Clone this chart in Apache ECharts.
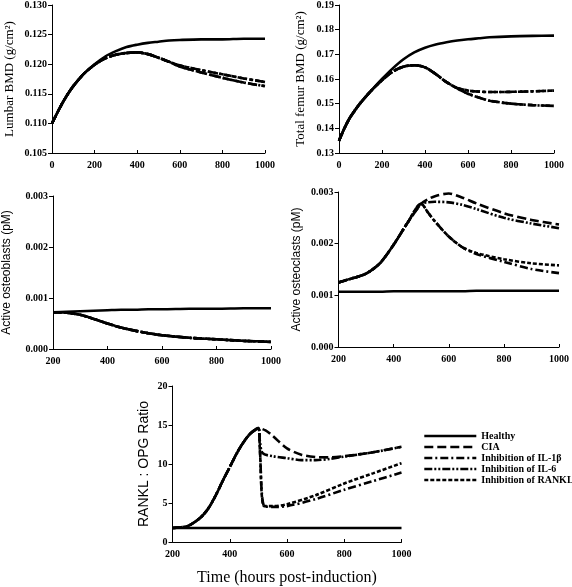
<!DOCTYPE html>
<html>
<head>
<meta charset="utf-8">
<script src="https://cdn.jsdelivr.net/npm/echarts@6/dist/echarts.min.js"></script>
<style>
html,body{margin:0;padding:0;background:#fff;}
#chart{width:572px;height:587px;}
</style>
</head>
<body>
<div id="chart"></div>
<script>
// ---------- Data ----------
const seriesNames = ['Healthy', 'CIA', 'Inhibition of IL-1\u03B2', 'Inhibition of IL-6', 'Inhibition of RANKL'];

// Panel 1: Lumbar BMD
const lumbarT = [0, 25, 50, 75, 100, 150, 200, 250, 300, 350, 400, 450, 500, 550, 600, 700, 800, 900, 1000];
const lumbarHealthy = [0.1100, 0.1118, 0.1135, 0.1150, 0.1163, 0.1184, 0.1200, 0.1213, 0.1222, 0.1229, 0.1233, 0.1236, 0.1238, 0.1240, 0.1241, 0.1242, 0.1242, 0.1243, 0.1243];
const lumbarCIA = [0.1100, 0.1118, 0.1135, 0.1150, 0.1163, 0.1184, 0.1199, 0.1210, 0.1216, 0.1219, 0.1220, 0.1217, 0.1211, 0.1204, 0.1196, 0.1186, 0.1177, 0.1169, 0.1163];
const lumbarIL1 = [0.1100, 0.1118, 0.1135, 0.1150, 0.1163, 0.1184, 0.1199, 0.1210, 0.1216, 0.1219, 0.1220, 0.1217, 0.1211, 0.1204, 0.1198, 0.1190, 0.1183, 0.1176, 0.1170];
const lumbarIL6 = [0.1100, 0.1118, 0.1135, 0.1150, 0.1163, 0.1184, 0.1199, 0.1210, 0.1216, 0.1219, 0.1220, 0.1217, 0.1211, 0.1204, 0.1196, 0.1186, 0.1177, 0.1169, 0.1163];
const lumbarRANKL = [0.1100, 0.1118, 0.1135, 0.1150, 0.1163, 0.1184, 0.1199, 0.1210, 0.1216, 0.1219, 0.1220, 0.1217, 0.1211, 0.1204, 0.1198, 0.1190, 0.1183, 0.1176, 0.1170];

// Panel 2: Total femur BMD
const femurT = [0, 25, 50, 75, 100, 150, 200, 250, 300, 350, 400, 450, 500, 550, 600, 650, 700, 800, 900, 1000];
const femurHealthy = [0.1350, 0.1400, 0.1442, 0.1474, 0.1503, 0.1553, 0.1600, 0.1643, 0.1680, 0.1708, 0.1727, 0.1740, 0.1749, 0.1756, 0.1761, 0.1765, 0.1769, 0.1773, 0.1775, 0.1776];
const femurCIA = [0.1350, 0.1400, 0.1442, 0.1474, 0.1503, 0.1553, 0.1595, 0.1630, 0.1650, 0.1656, 0.1647, 0.1620, 0.1587, 0.1562, 0.1540, 0.1525, 0.1512, 0.1500, 0.1494, 0.1491];
const femurIL1 = [0.1350, 0.1400, 0.1442, 0.1474, 0.1503, 0.1553, 0.1595, 0.1630, 0.1650, 0.1656, 0.1647, 0.1620, 0.1587, 0.1564, 0.1553, 0.1549, 0.1547, 0.1548, 0.1550, 0.1553];
const femurIL6 = [0.1350, 0.1400, 0.1442, 0.1474, 0.1503, 0.1553, 0.1595, 0.1630, 0.1650, 0.1656, 0.1647, 0.1620, 0.1587, 0.1562, 0.1540, 0.1525, 0.1512, 0.1500, 0.1494, 0.1491];
const femurRANKL = [0.1350, 0.1400, 0.1442, 0.1474, 0.1503, 0.1553, 0.1595, 0.1630, 0.1650, 0.1656, 0.1647, 0.1620, 0.1587, 0.1564, 0.1553, 0.1549, 0.1547, 0.1548, 0.1550, 0.1553];

// Panel 3: Active osteoblasts
const obT = [200, 250, 300, 350, 400, 450, 500, 550, 600, 700, 800, 900, 1000];
const obHealthy = [0.00072, 0.00073, 0.00074, 0.00075, 0.00076, 0.00077, 0.00077, 0.00078, 0.00078, 0.00079, 0.00079, 0.00080, 0.00080];
const obDisease = [0.00072, 0.00071, 0.00067, 0.00059, 0.00050, 0.00042, 0.00036, 0.00031, 0.00027, 0.00022, 0.00019, 0.00016, 0.00014];

// Panel 4: Active osteoclasts
const ocT = [200, 250, 300, 350, 400, 450, 500, 525, 550, 600, 650, 700, 800, 900, 1000];
const ocHealthy = [0.00107, 0.00107, 0.00107, 0.00107, 0.00108, 0.00108, 0.00108, 0.00108, 0.00108, 0.00108, 0.00108, 0.00109, 0.00109, 0.00109, 0.00109];
const ocCIA = [0.00125, 0.00133, 0.00142, 0.00162, 0.00198, 0.00240, 0.00277, 0.00286, 0.00292, 0.00297, 0.00289, 0.00278, 0.00259, 0.00246, 0.00237];
const ocIL1 = [0.00125, 0.00133, 0.00142, 0.00162, 0.00198, 0.00240, 0.00277, 0.00260, 0.00243, 0.00214, 0.00193, 0.00180, 0.00165, 0.00151, 0.00143];
const ocIL6 = [0.00125, 0.00133, 0.00142, 0.00162, 0.00198, 0.00240, 0.00277, 0.00280, 0.00281, 0.00280, 0.00275, 0.00267, 0.00250, 0.00239, 0.00230];
const ocRANKL = [0.00125, 0.00133, 0.00142, 0.00162, 0.00198, 0.00240, 0.00277, 0.00260, 0.00243, 0.00214, 0.00193, 0.00182, 0.00170, 0.00162, 0.00158];

// Panel 5: RANKL : OPG ratio
const preT = [200, 250, 275, 300, 325, 350, 375, 400, 425, 450, 475, 500];
const preVal = [1.8, 2.0, 2.5, 3.2, 4.3, 5.9, 7.8, 9.6, 11.4, 12.9, 14.0, 14.6];
const ratioHealthyT = [200, 1000];
const ratioHealthy = [1.8, 1.8];
const postCIAT = [525, 550, 600, 650, 700, 750, 800, 900, 1000];
const postCIA = [14.3, 13.6, 12.0, 11.2, 10.9, 10.85, 11.0, 11.5, 12.2];
const postIL6T = [505, 515, 550, 600, 650, 700, 750, 800, 900, 1000];
const postIL6 = [13.0, 11.4, 11.0, 10.75, 10.5, 10.5, 10.65, 10.95, 11.5, 12.2];
const postIL1T = [505, 520, 550, 600, 700, 800, 900, 1000];
const postIL1 = [12.0, 4.6, 4.5, 4.6, 5.5, 6.7, 7.8, 8.9];
const postRANKLT = [505, 520, 550, 600, 700, 800, 900, 1000];
const postRANKL = [12.0, 4.6, 4.6, 4.85, 6.0, 7.5, 8.8, 10.1];

// ---------- Helpers ----------
const pairs = (t, v) => t.map((x, i) => [x, v[i]]);
const withPre = (t, v) => pairs(preT.concat(t), preVal.concat(v));

const styles = [
  { type: 'solid' },
  { type: [9, 4] },
  { type: [8, 3, 2, 3] },
  { type: [8, 2, 2, 2, 2, 2] },
  { type: [4, 2] }
];
const serif = 'Liberation Serif';
const sans = 'Liberation Sans';

function mk(idx, data, gridIdx) {
  return {
    name: seriesNames[idx],
    type: 'line',
    xAxisIndex: gridIdx,
    yAxisIndex: gridIdx,
    data: data,
    symbol: 'none',
    smooth: 0.3,
    silent: true,
    animation: false,
    lineStyle: { color: '#000', width: 2.6, type: styles[idx].type },
    itemStyle: { color: '#000' }
  };
}

const tickLabel = { fontFamily: serif, fontWeight: 'bold', fontSize: 10, color: '#000' };
const axisLine = { show: true, lineStyle: { color: '#000', width: 1 } };

function xAxis(gridIdx, min, max, interval, extra) {
  return Object.assign({
    type: 'value', gridIndex: gridIdx, min: min, max: max, interval: interval,
    axisLine: axisLine,
    axisTick: { show: true, inside: true, length: 3, lineStyle: { color: '#000' } },
    axisLabel: Object.assign({ margin: 7, formatter: v => String(v) }, tickLabel),
    splitLine: { show: false }
  }, extra || {});
}
function yAxis(gridIdx, min, max, interval, dec, name, nameFont, nameSize, nameGap) {
  return {
    type: 'value', gridIndex: gridIdx, min: min, max: max, interval: interval,
    axisLine: axisLine,
    axisTick: { show: true, inside: false, length: 4, lineStyle: { color: '#000' } },
    axisLabel: Object.assign({ margin: 5, formatter: v => v.toFixed(dec) }, tickLabel),
    splitLine: { show: false },
    name: name, nameLocation: 'middle', nameGap: nameGap,
    nameTextStyle: { fontFamily: nameFont, fontSize: nameSize, color: '#000' }
  };
}

const chart = echarts.init(document.getElementById('chart'), null, { renderer: 'canvas' });
chart.setOption({
  backgroundColor: '#fff',
  animation: false,
  grid: [
    { left: 52, top: 5, width: 213, height: 148 },
    { left: 339, top: 4, width: 215, height: 149 },
    { left: 53, top: 196, width: 218, height: 153 },
    { left: 338.5, top: 192, width: 221.5, height: 155 },
    { left: 172.5, top: 386, width: 229, height: 160 }
  ],
  xAxis: [
    xAxis(0, 0, 1000, 200),
    xAxis(1, 0, 1000, 200),
    xAxis(2, 200, 1000, 200),
    xAxis(3, 200, 1000, 200),
    xAxis(4, 200, 1000, 200, {
      name: 'Time (hours post-induction)', nameLocation: 'middle', nameGap: 28,
      nameTextStyle: { fontFamily: serif, fontSize: 16, color: '#000' }
    })
  ],
  yAxis: [
    yAxis(0, 0.105, 0.130, 0.005, 3, 'Lumbar BMD (g/cm\u00B2)', serif, 13, 36),
    yAxis(1, 0.13, 0.19, 0.01, 2, 'Total femur BMD (g/cm\u00B2)', serif, 13, 32),
    yAxis(2, 0, 0.003, 0.001, 3, 'Active osteoblasts (pM)', sans, 12, 40),
    yAxis(3, 0, 0.003, 0.001, 3, 'Active osteoclasts (pM)', sans, 12, 36),
    yAxis(4, 0, 20, 5, 0, 'RANKL : OPG Ratio', sans, 14, 21)
  ],
  legend: {
    show: true,
    orient: 'vertical',
    left: 423,
    top: 431,
    padding: 0,
    itemWidth: 52,
    itemHeight: 10,
    itemGap: 1,
    selectedMode: false,
    data: seriesNames,
    itemStyle: { opacity: 0 },
    lineStyle: { width: 2.6 },
    textStyle: { fontFamily: serif, fontWeight: 'bold', fontSize: 10, color: '#000' }
  },
  series: [
    // Panel 1
    mk(0, pairs(lumbarT, lumbarHealthy), 0),
    mk(1, pairs(lumbarT, lumbarCIA), 0),
    mk(2, pairs(lumbarT, lumbarIL1), 0),
    mk(3, pairs(lumbarT, lumbarIL6), 0),
    mk(4, pairs(lumbarT, lumbarRANKL), 0),
    // Panel 2
    mk(0, pairs(femurT, femurHealthy), 1),
    mk(1, pairs(femurT, femurCIA), 1),
    mk(2, pairs(femurT, femurIL1), 1),
    mk(3, pairs(femurT, femurIL6), 1),
    mk(4, pairs(femurT, femurRANKL), 1),
    // Panel 3
    mk(0, pairs(obT, obHealthy), 2),
    mk(1, pairs(obT, obDisease), 2),
    mk(2, pairs(obT, obDisease), 2),
    mk(3, pairs(obT, obDisease), 2),
    mk(4, pairs(obT, obDisease), 2),
    // Panel 4
    mk(0, pairs(ocT, ocHealthy), 3),
    mk(1, pairs(ocT, ocCIA), 3),
    mk(2, pairs(ocT, ocIL1), 3),
    mk(3, pairs(ocT, ocIL6), 3),
    mk(4, pairs(ocT, ocRANKL), 3),
    // Panel 5
    mk(0, pairs(ratioHealthyT, ratioHealthy), 4),
    mk(1, withPre(postCIAT, postCIA), 4),
    mk(2, withPre(postIL1T, postIL1), 4),
    mk(3, withPre(postIL6T, postIL6), 4),
    mk(4, withPre(postRANKLT, postRANKL), 4)
  ]
});
</script>
</body>
</html>
